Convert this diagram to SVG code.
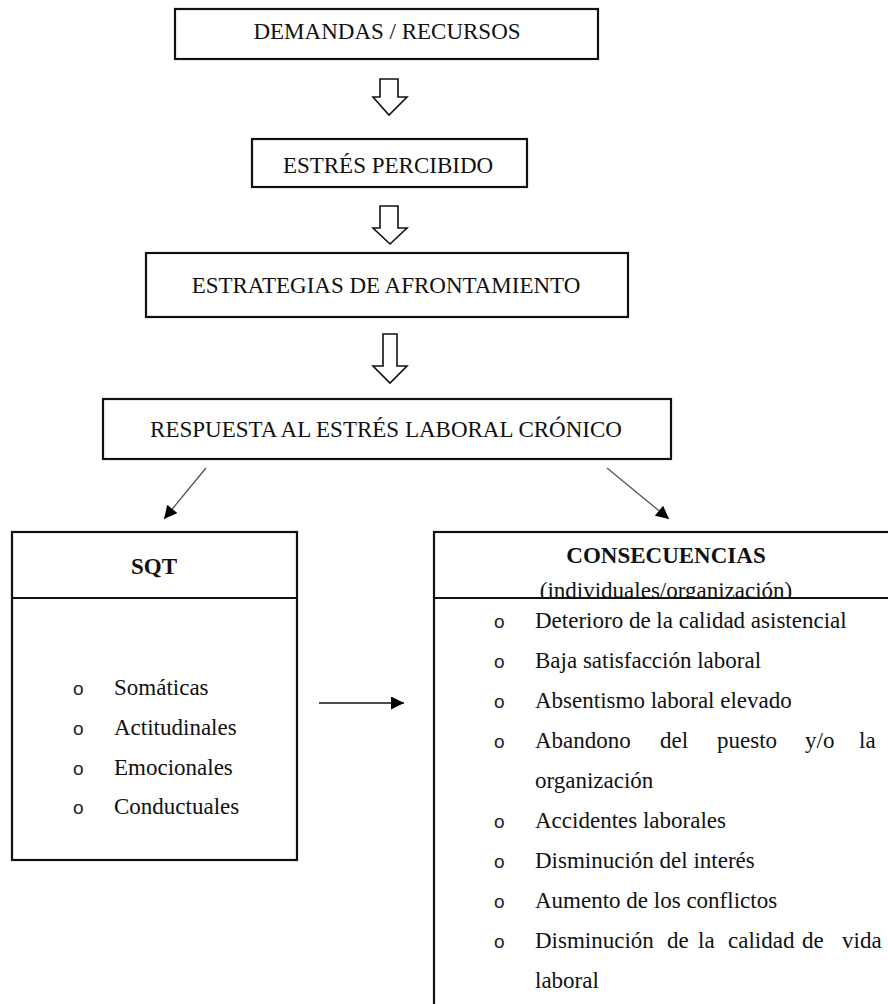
<svg xmlns="http://www.w3.org/2000/svg" width="888" height="1004" viewBox="0 0 888 1004">
<style>
.box{fill:#fff;stroke:#111;stroke-width:2.2}
.t{font-family:"Liberation Serif","Times New Roman",serif;font-size:23px;fill:#111}
.c{text-anchor:middle}
.b{font-weight:bold}
.bl{font-family:"Liberation Sans",Arial,sans-serif;font-size:19px;fill:#222}
.blk{fill:#fff;stroke:#111;stroke-width:1.6;stroke-linejoin:miter}
.diag{stroke:#555;stroke-width:1.3;fill:none}
</style>
<defs>
<marker id="ah2" viewBox="0 0 10 10" refX="10" refY="5" markerWidth="14" markerHeight="13" markerUnits="userSpaceOnUse" orient="auto">
<path d="M0,0 L10,5 L0,10 z" fill="#000"/>
</marker>
<clipPath id="hdr"><rect x="434" y="532" width="460" height="65"/></clipPath>
</defs>
<rect width="888" height="1004" fill="#fff"/>

<g id="connectors">
<polygon class="blk" points="380,79 398,79 398,97 407,97 389,115 373,97 380,97"/>
<polygon class="blk" points="380,206 398,206 398,228 407,228 390,244 373,228 380,228"/>
<polygon class="blk" points="383,334 397,334 397,366 407,366 390,383 373,366 383,366"/>
<line class="diag" x1="206" y1="468" x2="164" y2="519" marker-end="url(#ah2)"/>
<line class="diag" x1="607" y1="468" x2="669" y2="519" marker-end="url(#ah2)"/>
<line x1="319" y1="703" x2="404" y2="703" stroke="#111" stroke-width="1.3" marker-end="url(#ah2)"/>
</g>

<g id="demandas">
<rect class="box" x="175" y="9" width="423" height="50"/>
<text class="t c" x="387" y="39">DEMANDAS / RECURSOS</text>
</g>

<g id="estres">
<rect class="box" x="252" y="139" width="275" height="48"/>
<text class="t c" x="388" y="173">ESTRÉS PERCIBIDO</text>
</g>

<g id="estrategias">
<rect class="box" x="146" y="253" width="482" height="64"/>
<text class="t c" x="386" y="293">ESTRATEGIAS DE AFRONTAMIENTO</text>
</g>

<g id="respuesta">
<rect class="box" x="103" y="399" width="568" height="60"/>
<text class="t c" x="386" y="437">RESPUESTA AL ESTRÉS LABORAL CRÓNICO</text>
</g>

<g id="sqt">
<rect class="box" x="12" y="532" width="285" height="328"/>
<line x1="12" y1="598" x2="297" y2="598" stroke="#111" stroke-width="2.2"/>
<text class="t c b" x="154" y="574">SQT</text>
<text class="bl" x="73" y="695">o</text><text class="t" x="114" y="695">Somáticas</text>
<text class="bl" x="73" y="735">o</text><text class="t" x="114" y="735">Actitudinales</text>
<text class="bl" x="73" y="775">o</text><text class="t" x="114" y="775">Emocionales</text>
<text class="bl" x="73" y="814">o</text><text class="t" x="114" y="814">Conductuales</text>
</g>

<g id="consecuencias">
<rect class="box" x="434" y="532" width="466" height="490"/>
<text class="t c b" x="666" y="563">CONSECUENCIAS</text>
<text class="t c" x="666" y="598" clip-path="url(#hdr)">(individuales/organización)</text>
<line x1="434" y1="598" x2="900" y2="598" stroke="#111" stroke-width="2.2"/>
<text class="bl" x="494" y="628">o</text><text class="t" x="535" y="628">Deterioro de la calidad asistencial</text>
<text class="bl" x="494" y="668">o</text><text class="t" x="535" y="668">Baja satisfacción laboral</text>
<text class="bl" x="494" y="708">o</text><text class="t" x="535" y="708">Absentismo laboral elevado</text>
<text class="bl" x="494" y="748">o</text><text class="t" y="748"><tspan x="535">Abandono</tspan> <tspan x="660">del</tspan> <tspan x="717">puesto</tspan> <tspan x="805">y/o</tspan> <tspan x="859">la</tspan></text>
<text class="t" x="535" y="788">organización</text>
<text class="bl" x="494" y="828">o</text><text class="t" x="535" y="828">Accidentes laborales</text>
<text class="bl" x="494" y="868">o</text><text class="t" x="535" y="868">Disminución del interés</text>
<text class="bl" x="494" y="908">o</text><text class="t" x="535" y="908">Aumento de los conflictos</text>
<text class="bl" x="494" y="948">o</text><text class="t" y="948"><tspan x="535">Disminución</tspan> <tspan x="667">de</tspan> <tspan x="698">la</tspan> <tspan x="728">calidad</tspan> <tspan x="802">de</tspan> <tspan x="842">vida</tspan></text>
<text class="t" x="535" y="988">laboral</text>
</g>
</svg>
